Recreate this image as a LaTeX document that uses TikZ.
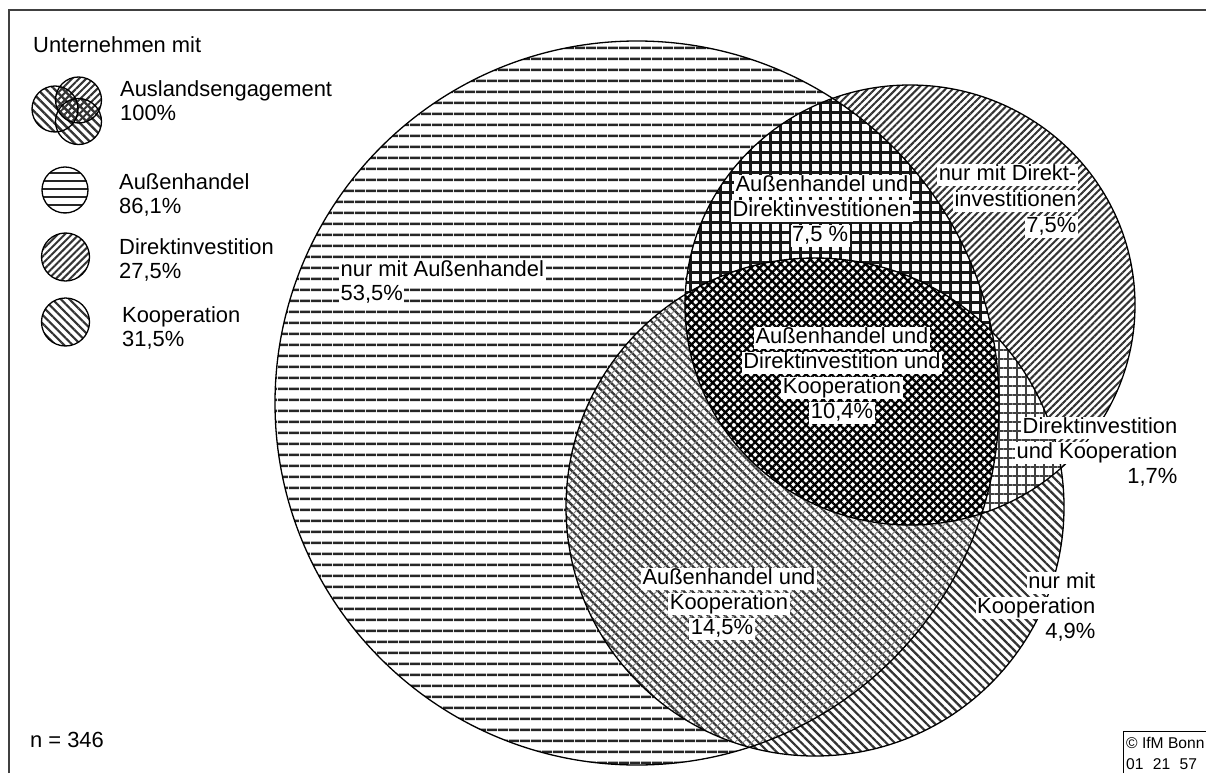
\documentclass[tikz,border=0pt]{standalone}
\usepackage{fontspec}
\setmainfont{Liberation Sans}
\usetikzlibrary{patterns.meta}
\begin{document}
\begin{tikzpicture}[x=1pt,y=-1pt,
  txt/.style={font=\fontsize{21.9}{25}\selectfont, inner sep=0pt},
  lbl/.style={font=\fontsize{21.9}{25}\selectfont, fill=white, inner xsep=1.5pt, inner ysep=1pt, text height=15.5pt, text depth=4.5pt},
  small/.style={font=\fontsize{15.6}{20}\selectfont, inner sep=0pt},
  outl/.style={draw=black, line width=1.3pt},
  frameline/.style={draw=black!75, line width=1.6pt},
  patA/.style={pattern={Lines[angle=0,distance=10.5pt,line width=2.6pt]}, pattern color=black!85},
  patAleg/.style={pattern={Lines[angle=0,distance=8pt,line width=2.3pt]}, pattern color=black!85},
  patD/.style={pattern={Lines[angle=45,distance=5pt,line width=2pt]}, pattern color=black!80},
  patK/.style={pattern={Lines[angle=-45,distance=6pt,line width=2.2pt]}, pattern color=black!80},
  patAD/.style={pattern={Hatch[angle=0,distance=10pt,line width=3pt]}, pattern color=black!90},
  patAKa/.style={pattern={Lines[angle=-45,distance=6pt,line width=2.2pt]}, pattern color=black!80},
  patAKb/.style={pattern={Lines[angle=45,distance=6pt,line width=1pt]}, pattern color=black!50},
  patDK/.style={pattern={Hatch[angle=0,distance=9pt,line width=1.6pt]}, pattern color=black!75},
  patADK/.style={pattern={Hatch[angle=45,distance=6pt,line width=2.3pt]}, pattern color=black}
]
\useasboundingbox (0,0) rectangle (1206,773);
\fill[white] (0,0) rectangle (1206,773);

% frame
\coordinate (f1) at (9,773);
\coordinate (f2) at (9,10);
\coordinate (f3) at (1206,10);
\draw[frameline] (f1) -- (f2) -- (f3);

% centres
\coordinate (cA) at (637,403);
\coordinate (cD) at (910,305);
\coordinate (cK) at (815,507);

% single sets
\fill[white] (cA) circle[radius=362pt];
\fill[patA] (cA) circle[radius=362pt];
\fill[white] (cD) ellipse[x radius=225pt, y radius=220pt];
\fill[patD] (cD) ellipse[x radius=225pt, y radius=220pt];
\fill[white] (cK) circle[radius=249pt];
\fill[patK] (cK) circle[radius=249pt];

% A and D
\begin{scope}
  \clip (cA) circle[radius=362pt];
  \fill[white] (cD) ellipse[x radius=225pt, y radius=220pt];
  \fill[patAD] (cD) ellipse[x radius=225pt, y radius=220pt];
\end{scope}
% A and K
\begin{scope}
  \clip (cA) circle[radius=362pt];
  \fill[white] (cK) circle[radius=249pt];
  \fill[patAKa] (cK) circle[radius=249pt];
  \fill[patAKb] (cK) circle[radius=249pt];
\end{scope}
% D and K
\begin{scope}
  \clip (cD) ellipse[x radius=225pt, y radius=220pt];
  \fill[white] (cK) circle[radius=249pt];
  \fill[patDK] (cK) circle[radius=249pt];
\end{scope}
% A and D and K
\begin{scope}
  \clip (cA) circle[radius=362pt];
  \clip (cD) ellipse[x radius=225pt, y radius=220pt];
  \fill[white] (cK) circle[radius=249pt];
  \fill[patADK] (cK) circle[radius=249pt];
\end{scope}

% outlines
\draw[outl] (cA) circle[radius=362pt];
\draw[outl] (cD) ellipse[x radius=225pt, y radius=220pt];
\draw[outl] (cK) circle[radius=249pt];

% legend
\node[txt, anchor=base west] (title) at (33,53) {Unternehmen mit};

\coordinate (l1) at (55,109);
\coordinate (l2) at (78.5,100);
\coordinate (l3) at (78.5,121.5);
\fill[patK] (l1) circle[radius=23pt];
\fill[patD] (l2) circle[radius=23pt];
\fill[patK] (l3) circle[radius=23pt];
\draw[outl] (l1) circle[radius=23pt];
\draw[outl] (l2) circle[radius=23pt];
\draw[outl] (l3) circle[radius=23pt];
\node[txt, anchor=base west] (leg1a) at (120,97) {Auslandsengagement};
\node[txt, anchor=base west] (leg1b) at (120,121) {100\%};

\coordinate (la) at (65,190);
\fill[patAleg] (la) circle[radius=23pt];
\draw[outl] (la) circle[radius=23pt];
\node[txt, anchor=base west] (leg2a) at (119,189) {Außenhandel};
\node[txt, anchor=base west] (leg2b) at (119,213) {86,1\%};

\coordinate (ld) at (65.5,257);
\fill[patD] (ld) circle[radius=24pt];
\draw[outl] (ld) circle[radius=24pt];
\node[txt, anchor=base west] (leg3a) at (119,254) {Direktinvestition};
\node[txt, anchor=base west] (leg3b) at (119,278) {27,5\%};

\coordinate (lk) at (65.5,322);
\fill[patK] (lk) circle[radius=24pt];
\draw[outl] (lk) circle[radius=24pt];
\node[txt, anchor=base west] (leg4a) at (122,322) {Kooperation};
\node[txt, anchor=base west] (leg4b) at (122,346) {31,5\%};

\node[txt, anchor=base west] (n) at (30,747) {n = 346};

% region labels
\node[lbl, anchor=base west] (ra1) at (339,276) {nur mit Außenhandel};
\node[lbl, anchor=base west] (ra2) at (339,300) {53,5\%};

\node[lbl, anchor=base] (rad1) at (822,191) {Außenhandel und};
\node[lbl, anchor=base] (rad2) at (822,216) {Direktinvestitionen};
\node[lbl, anchor=base] (rad3) at (820,241) {7,5 \%};

\node[lbl, anchor=base east] (rd1) at (1078,180) {nur mit Direkt-};
\node[lbl, anchor=base east] (rd2) at (1078,206) {investitionen};
\node[lbl, anchor=base east] (rd3) at (1078,232) {7,5\%};

\node[lbl, anchor=base] (radk1) at (842,343) {Außenhandel und};
\node[lbl, anchor=base] (radk2) at (842,368) {Direktinvestition und};
\node[lbl, anchor=base] (radk3) at (842,393) {Kooperation};
\node[lbl, anchor=base] (radk4) at (842,418) {10,4\%};

\node[lbl, anchor=base east] (rdk1) at (1179,433) {Direktinvestition};
\node[lbl, anchor=base east] (rdk2) at (1179,458) {und Kooperation};
\node[lbl, anchor=base east] (rdk3) at (1179,483) {1,7\%};

\node[lbl, anchor=base] (rak1) at (729,584) {Außenhandel und};
\node[lbl, anchor=base] (rak2) at (729,609) {Kooperation};
\node[lbl, anchor=base] (rak3) at (722,634) {14,5\%};

\node[lbl, anchor=base east] (rk1) at (1097,588) {nur mit};
\node[lbl, anchor=base east] (rk2) at (1097,613) {Kooperation};
\node[lbl, anchor=base east] (rk3) at (1097,638) {4,9\%};

% copyright box
\coordinate (b1) at (1123,773);
\coordinate (b2) at (1123,731);
\coordinate (b3) at (1206,731);
\draw[draw=black, line width=1pt] (b1) -- (b2) -- (b3);
\node[small, anchor=base west] (c1) at (1126,748) {© IfM Bonn};
\node[small, anchor=base west] (c2) at (1126,769) {01\hspace{0.6em}21\hspace{0.6em}57};
\end{tikzpicture}
\end{document}
